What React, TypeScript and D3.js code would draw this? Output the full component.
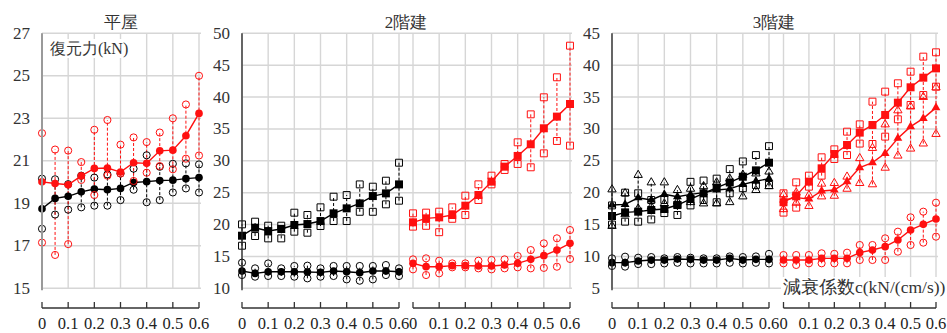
import React, { useEffect, useRef } from 'react';
import * as d3 from 'd3';

// damping coefficient c (kN/(cm/s)) at each measured point
const cValues = [0, 0.05, 0.1, 0.15, 0.2, 0.25, 0.3, 0.35, 0.4, 0.45, 0.5, 0.55, 0.6];
const xTickValues = [0, 0.1, 0.2, 0.3, 0.4, 0.5, 0.6];
const xTickLabels = ['0', '0.1', '0.2', '0.3', '0.4', '0.5', '0.6'];

const groupTitles = ['平屋', '2階建', '3階建'];
const yTicks1 = [15, 17, 19, 21, 23, 25, 27];
const yTicks2 = [10, 15, 20, 25, 30, 35, 40, 45, 50];
const yTicks3 = [5, 10, 15, 20, 25, 30, 35, 40, 45];

// 平屋
const h1BlackMean = [18.74, 19.23, 19.33, 19.54, 19.67, 19.64, 19.7, 19.98, 20.02, 20.07, 20.09, 20.16, 20.21];
const h1BlackMax = [20.16, 20.13, 19.9, 20.3, 20.21, 20.36, 20.4, 20.63, 21.26, 20.72, 20.86, 20.88, 20.83];
const h1BlackMin = [17.8, 18.47, 18.7, 18.81, 18.89, 18.89, 19.15, 19.64, 19.05, 19.15, 19.51, 19.7, 19.51];
const h1RedMean = [20.01, 19.93, 19.87, 20.29, 20.64, 20.66, 20.47, 20.91, 20.88, 21.47, 21.5, 22.18, 23.23];
const h1RedMax = [22.3, 21.53, 21.48, 20.94, 22.46, 22.92, 21.76, 22.1, 21.88, 22.33, 23.0, 23.65, 25.0];
const h1RedMin = [17.15, 16.57, 17.08, 20.1, 19.39, 20.3, 20.4, 20.05, 20.44, 20.75, 20.6, 21.1, 21.25];

// 2階建 (black)
const h2SqMean = [18.25, 19.5, 18.98, 19.3, 19.93, 20.08, 20.55, 21.76, 22.54, 23.32, 24.47, 24.89, 26.3];
const h2SqMax = [20.03, 20.45, 19.82, 19.82, 21.86, 21.5, 22.7, 24.37, 24.63, 26.3, 25.94, 26.88, 29.7];
const h2SqMin = [16.68, 18.2, 17.83, 17.83, 18.88, 18.72, 19.77, 20.55, 20.55, 22.0, 22.0, 23.17, 23.74];
const h2CiMean = [12.71, 12.34, 12.6, 12.6, 12.6, 12.55, 12.5, 12.71, 12.6, 12.45, 12.71, 12.71, 12.6];
const h2CiMax = [14.02, 13.13, 13.9, 13.13, 13.5, 13.55, 13.13, 13.5, 13.5, 13.5, 13.5, 13.65, 13.13];
const h2CiMin = [12.08, 11.82, 11.93, 11.93, 11.82, 11.56, 11.82, 11.93, 11.4, 11.19, 11.4, 12.08, 11.93];

// 2階建 (red)
const h2rSqMean = [20.35, 20.97, 21.13, 21.5, 22.96, 24.64, 26.73, 29.08, 30.76, 32.59, 35.1, 36.93, 38.91];
const h2rSqMax = [21.76, 21.87, 22.02, 22.7, 24.53, 26.31, 27.67, 29.5, 32.9, 37.29, 39.96, 43.1, 48.06];
const h2rSqMin = [19.67, 19.8, 18.8, 20.9, 21.5, 23.85, 26.3, 28.56, 29.5, 28.98, 31.17, 33.11, 32.38];
const h2rCiMean = [13.91, 13.39, 13.39, 13.55, 13.55, 13.5, 13.5, 13.65, 13.91, 14.54, 15.12, 16.0, 17.05];
const h2rCiMax = [14.54, 14.7, 14.33, 13.91, 13.91, 14.33, 14.44, 14.54, 15.06, 16.0, 17.05, 17.84, 19.14];
const h2rCiMin = [12.97, 12.08, 12.35, 13.29, 13.29, 13.13, 12.97, 13.13, 13.29, 13.13, 13.2, 13.39, 14.6];

// 3階建 (black)
const h3SqMean = [16.34, 16.91, 17.02, 17.28, 17.44, 18.06, 19.0, 19.9, 20.8, 21.6, 22.5, 23.5, 24.7];
const h3SqMax = [18.0, 20.0, 19.9, 18.85, 18.85, 18.1, 21.7, 21.9, 22.2, 23.7, 24.9, 25.9, 27.3];
const h3SqMin = [15.0, 15.45, 15.45, 15.8, 16.8, 16.5, 18.0, 18.85, 18.5, 19.9, 20.7, 21.2, 21.2];
const h3TrMean = [18.06, 18.17, 19.2, 18.85, 19.74, 19.37, 19.74, 20.0, 20.42, 20.6, 21.3, 21.8, 22.2];
const h3TrMax = [20.5, 19.9, 22.77, 21.6, 21.6, 20.4, 20.6, 21.0, 21.6, 22.2, 22.8, 23.0, 23.3];
const h3TrMin = [14.77, 16.6, 17.5, 17.8, 18.3, 18.6, 18.5, 18.3, 18.3, 18.5, 19.4, 20.4, 21.0];
const h3CiMean = [9.02, 9.02, 9.28, 9.43, 9.43, 9.59, 9.54, 9.43, 9.43, 9.7, 9.43, 9.54, 9.54];
const h3CiMax = [9.7, 9.96, 9.8, 9.9, 9.7, 9.9, 9.8, 9.7, 9.7, 10.0, 9.9, 10.0, 10.4];
const h3CiMin = [8.5, 8.4, 8.8, 8.8, 8.9, 9.0, 8.9, 8.9, 8.9, 9.0, 8.9, 9.0, 8.9];

// 3階建 (red)
const h3rSqMean = [18.5, 19.53, 21.73, 23.82, 26.07, 27.48, 29.42, 30.62, 32.19, 34.12, 36.53, 38.04, 39.5];
const h3rSqMax = [19.9, 21.62, 22.67, 25.55, 26.8, 29.57, 30.72, 34.28, 35.85, 37.16, 38.98, 41.34, 42.02];
const h3rSqMin = [16.87, 17.65, 20.94, 22.67, 25.28, 25.9, 27.7, 27.64, 28.79, 31.51, 33.76, 35.32, 36.63];
const h3rTrMean = [18.85, 19.22, 19.01, 20.27, 20.42, 21.73, 23.93, 24.71, 26.17, 28.53, 30.36, 31.66, 33.34];
const h3rTrMax = [19.7, 20.0, 19.6, 21.4, 21.5, 22.5, 25.4, 27.0, 30.7, 32.9, 33.5, 35.0, 36.5];
const h3rTrMin = [17.4, 18.4, 17.9, 19.4, 19.5, 20.6, 21.5, 21.3, 23.9, 25.8, 26.9, 27.7, 29.2];
const h3rCiMean = [9.44, 9.44, 9.44, 9.7, 9.7, 9.7, 10.59, 11.0, 11.53, 12.58, 14.15, 15.03, 15.87];
const h3rCiMax = [10.22, 10.22, 10.22, 10.49, 10.4, 10.59, 11.79, 11.79, 12.84, 13.88, 16.13, 17.02, 18.43];
const h3rCiMin = [8.92, 8.66, 8.92, 8.92, 8.92, 8.92, 9.44, 9.44, 9.44, 10.75, 11.79, 12.16, 13.1];

const RED = '#ff1010';
const BLACK = '#000';
const FONT = '"Liberation Serif", "Times New Roman", serif';

function App() {
  const svgRef = useRef(null);

  useEffect(() => {
    const width = 947;
    const height = 333;
    const top = 33.3;
    const bottom = 288.3;

    const svg = d3.select(svgRef.current);
    svg.selectAll('*').remove();
    svg.attr('width', width).attr('height', height);

    const groups = [
      {
        title: groupTitles[0], domain: [15, 27], ticks: yTicks1, axisColor: '#9a9a9a', axisW: 2,
        panels: [
          { x0: 42, w: 157, series: [
            { mean: h1BlackMean, max: h1BlackMax, min: h1BlackMin, color: BLACK, shape: 'circle' },
            { mean: h1RedMean, max: h1RedMax, min: h1RedMin, color: RED, shape: 'circle' },
          ] },
        ],
      },
      {
        title: groupTitles[1], domain: [10, 50], ticks: yTicks2, axisColor: '#222', axisW: 1.3,
        panels: [
          { x0: 242, w: 157, series: [
            { mean: h2SqMean, max: h2SqMax, min: h2SqMin, color: BLACK, shape: 'square' },
            { mean: h2CiMean, max: h2CiMax, min: h2CiMin, color: BLACK, shape: 'circle' },
          ] },
          { x0: 413, w: 157, series: [
            { mean: h2rSqMean, max: h2rSqMax, min: h2rSqMin, color: RED, shape: 'square' },
            { mean: h2rCiMean, max: h2rCiMax, min: h2rCiMin, color: RED, shape: 'circle' },
          ] },
        ],
      },
      {
        title: groupTitles[2], domain: [5, 45], ticks: yTicks3, axisColor: '#222', axisW: 1.3,
        panels: [
          { x0: 612, w: 157, series: [
            { mean: h3SqMean, max: h3SqMax, min: h3SqMin, color: BLACK, shape: 'square' },
            { mean: h3TrMean, max: h3TrMax, min: h3TrMin, color: BLACK, shape: 'triangle' },
            { mean: h3CiMean, max: h3CiMax, min: h3CiMin, color: BLACK, shape: 'circle' },
          ] },
          { x0: 783.5, w: 152.5, series: [
            { mean: h3rSqMean, max: h3rSqMax, min: h3rSqMin, color: RED, shape: 'square' },
            { mean: h3rTrMean, max: h3rTrMax, min: h3rTrMin, color: RED, shape: 'triangle' },
            { mean: h3rCiMean, max: h3rCiMax, min: h3rCiMin, color: RED, shape: 'circle' },
          ] },
        ],
      },
    ];

    const symbolType = { circle: d3.symbolCircle, square: d3.symbolSquare, triangle: d3.symbolTriangle };
    const filledSize = { circle: 46, square: 64, triangle: 34 };
    const openSize = { circle: 40, square: 48, triangle: 30 };

    groups.forEach(g => {
      const y = d3.scaleLinear().domain(g.domain).range([bottom, top]);
      const lastP = g.panels[g.panels.length - 1];
      const first = g.panels[0].x0;
      const last = lastP.x0 + lastP.w;

      const grid = svg.append('g');
      // horizontal grid
      g.ticks.forEach(t => {
        grid.append('line')
          .attr('x1', first).attr('x2', last + 2)
          .attr('y1', y(t)).attr('y2', y(t))
          .attr('stroke', '#d6d6d6').attr('stroke-width', 1.4);
      });

      g.panels.forEach(p => {
        const x = d3.scaleLinear().domain([0, 0.6]).range([p.x0, p.x0 + p.w]);
        // vertical grid
        xTickValues.forEach(t => {
          grid.append('line')
            .attr('x1', x(t)).attr('x2', x(t))
            .attr('y1', top).attr('y2', bottom)
            .attr('stroke', '#d6d6d6').attr('stroke-width', 1.4);
        });

        // x axis below panel
        const ax = svg.append('g').attr('transform', 'translate(0,308)');
        ax.append('line').attr('x1', x(0)).attr('x2', x(0.6)).attr('y1', 0).attr('y2', 0)
          .attr('stroke', '#333').attr('stroke-width', 1.3);
        xTickValues.forEach((t, i) => {
          ax.append('line').attr('x1', x(t)).attr('x2', x(t)).attr('y1', -6).attr('y2', 0)
            .attr('stroke', '#333').attr('stroke-width', 1.3);
          ax.append('text').attr('x', x(t)).attr('y', 21)
            .attr('text-anchor', 'middle')
            .attr('font-family', FONT).attr('font-size', 16.5).attr('fill', '#222')
            .text(xTickLabels[i]);
        });

        const plot = svg.append('g');
        p.series.forEach(s => {
          // min-max dashed range
          cValues.forEach((c, i) => {
            plot.append('line')
              .attr('x1', x(c)).attr('x2', x(c))
              .attr('y1', y(s.min[i])).attr('y2', y(s.max[i]))
              .attr('stroke', s.color).attr('stroke-width', 1)
              .attr('stroke-dasharray', '3,2');
          });
        });
        p.series.forEach(s => {
          const line = d3.line()
            .x((_, i) => x(cValues[i]))
            .y(d => y(d));
          plot.append('path').datum(s.mean).attr('d', line)
            .attr('fill', 'none').attr('stroke', s.color).attr('stroke-width', 1.4);

          const openSym = d3.symbol().type(symbolType[s.shape]).size(openSize[s.shape]);
          const fillSym = d3.symbol().type(symbolType[s.shape]).size(filledSize[s.shape]);
          [s.max, s.min].forEach(vals => {
            plot.selectAll(null).data(vals).enter().append('path')
              .attr('d', openSym)
              .attr('transform', (d, i) => `translate(${x(cValues[i])},${y(d)})`)
              .attr('fill', 'none').attr('stroke', s.color).attr('stroke-width', 1);
          });
          plot.selectAll(null).data(s.mean).enter().append('path')
            .attr('d', fillSym)
            .attr('transform', (d, i) => `translate(${x(cValues[i])},${y(d)})`)
            .attr('fill', s.color);
        });
      });

      // y axis line + labels
      svg.append('line').attr('x1', first).attr('x2', first).attr('y1', top).attr('y2', bottom + 2)
        .attr('stroke', g.axisColor).attr('stroke-width', g.axisW);
      g.ticks.forEach(t => {
        svg.append('text').attr('x', first - 12).attr('y', y(t))
          .attr('text-anchor', 'end').attr('dominant-baseline', 'central')
          .attr('font-family', FONT).attr('font-size', 17).attr('fill', '#333')
          .text(t);
      });

      svg.append('text').attr('x', (first + last) / 2).attr('y', 28)
        .attr('text-anchor', 'middle')
        .attr('font-family', FONT).attr('font-size', 17).attr('fill', '#333')
        .text(g.title);
    });

    // axis captions
    const cap1 = svg.append('g');
    cap1.append('rect').attr('x', 48).attr('y', 39).attr('width', 88).attr('height', 19).attr('fill', '#fff');
    cap1.append('text').attr('x', 50).attr('y', 54)
      .attr('font-family', FONT).attr('font-size', 16).attr('fill', '#333')
      .text('復元力(kN)');

    const cap2 = svg.append('g');
    cap2.append('rect').attr('x', 781).attr('y', 277).attr('width', 166).attr('height', 20).attr('fill', '#fff');
    cap2.append('text').attr('x', 783).attr('y', 293)
      .attr('font-family', FONT).attr('font-size', 17.5).attr('fill', '#333')
      .text('減衰係数c(kN/(cm/s))');
  }, []);

  return <svg ref={svgRef} style={{ position: 'absolute', left: 0, top: 0 }}></svg>;
}

export default App;
